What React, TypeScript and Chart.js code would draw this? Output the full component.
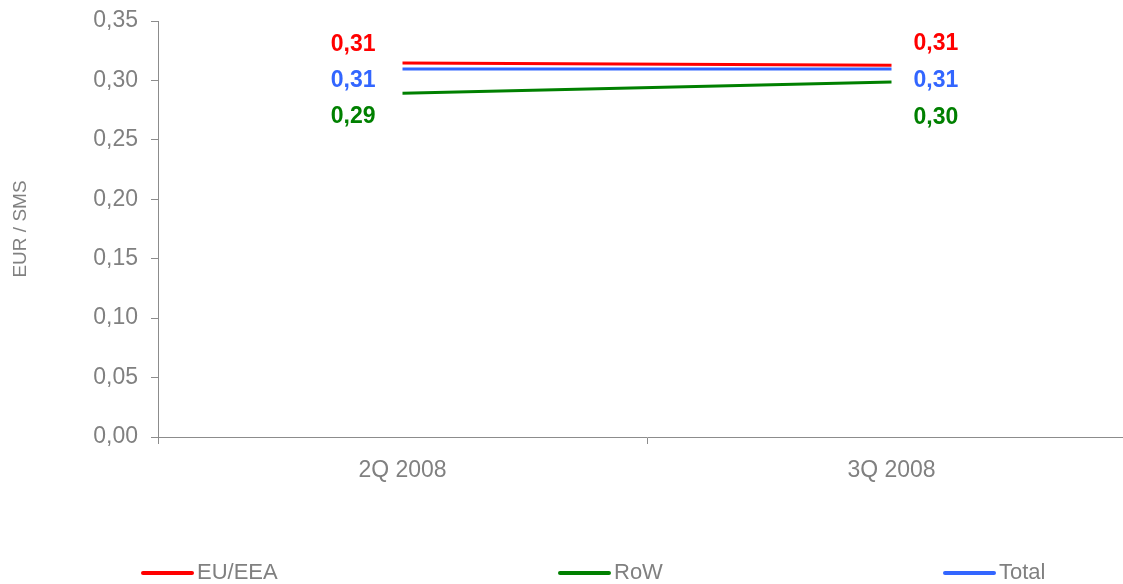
import React, { useEffect, useRef } from 'react';
import { Chart, registerables } from 'chart.js';

Chart.register(...registerables);

const categories = ['2Q 2008', '3Q 2008'];
const euEea = [0.3146, 0.3128];
const row = [0.2892, 0.2987];
const total = [0.3096, 0.3096];
const seriesNames = ['EU/EEA', 'RoW', 'Total'];
const seriesColors = ['#FF0000', '#008000', '#3366FF'];

const FONT = '"Liberation Sans", Arial, Helvetica, sans-serif';
const GRAY = '#808080';
const AXIS = '#8c8c8c';

// label baseline offsets from the point (per dataset, per point)
const labelDy = [
  [-12, -15],
  [30, 42],
  [18, 18],
];
const legendX = [143, 560, 945];

const fmt = (v: number) => v.toFixed(2).replace('.', ',');

const valueLabels = {
  id: 'valueLabels',
  afterDatasetsDraw(chart: any) {
    const ctx = chart.ctx;
    ctx.save();
    ctx.font = `bold 23px ${FONT}`;
    ctx.textBaseline = 'alphabetic';
    chart.data.datasets.forEach((ds: any, di: number) => {
      const meta = chart.getDatasetMeta(di);
      meta.data.forEach((pt: any, i: number) => {
        ctx.fillStyle = ds.borderColor;
        const txt = fmt(ds.data[i]);
        if (i === 0) {
          ctx.textAlign = 'right';
          ctx.fillText(txt, pt.x - 27, pt.y + labelDy[di][i]);
        } else {
          ctx.textAlign = 'left';
          ctx.fillText(txt, pt.x + 22, pt.y + labelDy[di][i]);
        }
      });
    });
    ctx.restore();
  },
};

const bottomLegend = {
  id: 'bottomLegend',
  afterDraw(chart: any) {
    const ctx = chart.ctx;
    ctx.save();
    ctx.font = `22px ${FONT}`;
    ctx.textBaseline = 'alphabetic';
    ctx.textAlign = 'left';
    chart.data.datasets.forEach((ds: any, di: number) => {
      const x = legendX[di];
      const y = 573;
      ctx.strokeStyle = ds.borderColor;
      ctx.lineWidth = 4;
      ctx.lineCap = 'round';
      ctx.beginPath();
      ctx.moveTo(x, y);
      ctx.lineTo(x + 49, y);
      ctx.stroke();
      ctx.fillStyle = GRAY;
      ctx.fillText(ds.label, x + 54, 579);
    });
    ctx.restore();
  },
};

export default function App() {
  const ref = useRef<HTMLCanvasElement>(null);
  useEffect(() => {
    document.body.style.margin = '0';
    document.body.style.overflow = 'hidden';
    const values = [euEea, row, total];
    const chart = new Chart(ref.current as HTMLCanvasElement, {
      type: 'line',
      data: {
        labels: categories,
        datasets: values.map((d, i) => ({
          label: seriesNames[i],
          data: d,
          borderColor: seriesColors[i],
          backgroundColor: seriesColors[i],
          borderWidth: 3,
          pointRadius: 0,
          tension: 0,
          fill: false,
        })),
      },
      options: {
        animation: false,
        responsive: true,
        maintainAspectRatio: false,
        layout: { padding: { left: 0, right: 4, top: 21, bottom: 0 } },
        plugins: {
          legend: { display: false },
          tooltip: { enabled: false },
        },
        scales: {
          x: {
            type: 'category',
            offset: true,
            grid: {
              offset: true,
              drawOnChartArea: false,
              drawTicks: true,
              tickLength: 7,
              color: AXIS,
            },
            border: { color: AXIS, width: 1 },
            ticks: { font: { family: FONT, size: 23 }, color: GRAY, padding: 13 },
            afterFit: (s: any) => {
              s.height = 584 - 437;
            },
          },
          y: {
            min: 0,
            max: 0.35,
            grid: {
              drawOnChartArea: false,
              drawTicks: true,
              tickLength: 7,
              color: AXIS,
            },
            border: { color: AXIS, width: 1 },
            ticks: {
              stepSize: 0.05,
              font: { family: FONT, size: 23 },
              color: GRAY,
              padding: 13,
              callback: (v: any) => fmt(Number(v)),
            },
            title: {
              display: true,
              text: 'EUR / SMS',
              font: { family: FONT, size: 19 },
              color: GRAY,
              padding: { top: 9, bottom: 0 },
            },
            afterFit: (s: any) => {
              s.width = 158;
              s.paddingTop = 0;
              s.paddingBottom = 0;
            },
          },
        },
      },
      plugins: [valueLabels, bottomLegend],
    } as any);
    return () => chart.destroy();
  }, []);
  return (
    <div style={{ position: 'fixed', left: 0, top: 0, width: 1140, height: 584 }}>
      <canvas ref={ref} />
    </div>
  );
}
